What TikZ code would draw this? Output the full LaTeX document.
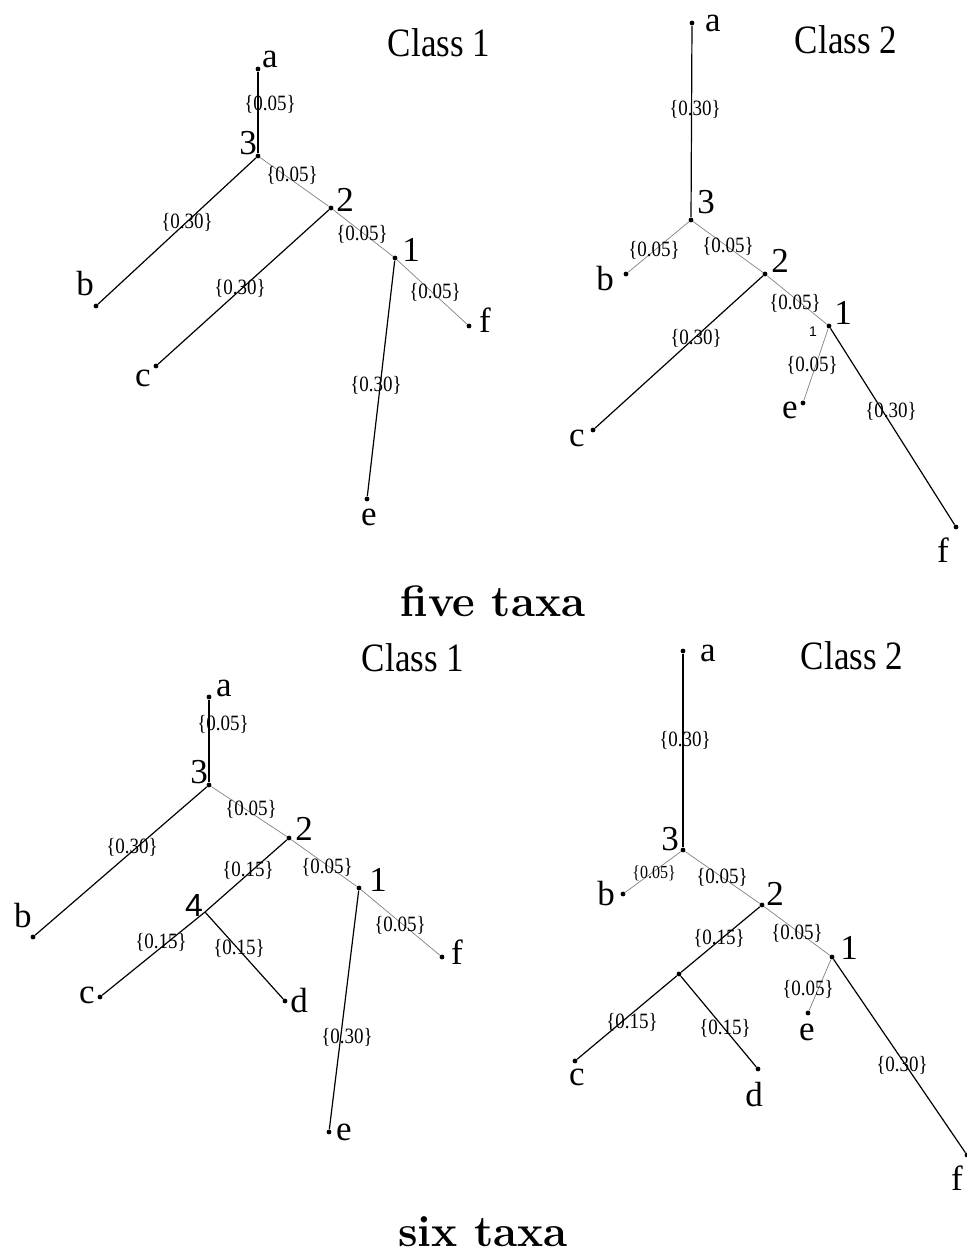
\documentclass[tikz,border=0pt]{standalone}
\usepackage{fontspec}
\newfontfamily\tms{Liberation Serif}
\newfontfamily\hlv{Liberation Sans}
\tikzstyle{dot}=[circle,fill=black,inner sep=0pt,minimum size=2.4pt]
\tikzstyle{L}=[inner sep=0pt,font=\tms\fontsize{17.5}{18}\selectfont]
\tikzstyle{W}=[inner sep=0pt,font=\tms\fontsize{9.5}{10}\selectfont]
\tikzstyle{H}=[inner sep=0pt,font=\bfseries\fontsize{22}{24}\selectfont]
\tikzstyle{long}=[line width=0.6pt]
\tikzstyle{short}=[gray,line width=0.35pt]
\newcommand\blen[1]{\scalebox{1}[1.15]{\{#1\}}}
\newcommand\cls[1]{\scalebox{1}[1.15]{Class #1}}

\begin{document}
\begin{tikzpicture}[x=0.5pt,y=-0.5pt]
    \useasboundingbox (0,0) rectangle (966,1254);

        % five taxa, class 1
        \begin{scope}
            \node[dot] (Aa) at (258,69) {};
            \node[dot] (A3) at (258,156) {};
            \node[dot] (A2) at (331,208) {};
            \node[dot] (A1) at (395,258) {};
            \node[dot] (Ab) at (96,306) {};
            \node[dot] (Ac) at (156,366) {};
            \node[dot] (Af) at (469,326) {};
            \node[dot] (Ae) at (367,499) {};
            \draw[long] (Aa) -- (A3);
            \draw[short] (A3) -- (A2);
            \draw[long] (A3) -- (Ab);
            \draw[short] (A2) -- (A1);
            \draw[long] (A2) -- (Ac);
            \draw[short] (A1) -- (Af);
            \draw[long] (A1) -- (Ae);
            \node[L] (tAa) at (270,59) {a};
            \node[L] (tA3) at (248,143) {3};
            \node[L] (tA2) at (345,200) {2};
            \node[L] (tA1) at (411,250) {1};
            \node[L] (tAb) at (85,284) {b};
            \node[L] (tAc) at (143,378) {c};
            \node[L] (tAf) at (485,320) {f};
            \node[L] (tAe) at (369,517) {e};
            \node[W] (wA1) at (270,104) {\blen{0.05}};
            \node[W] (wA2) at (292,175) {\blen{0.05}};
            \node[W] (wA3) at (187,222) {\blen{0.30}};
            \node[W] (wA4) at (362,234) {\blen{0.05}};
            \node[W] (wA5) at (240,288) {\blen{0.30}};
            \node[W] (wA6) at (435,292) {\blen{0.05}};
            \node[W] (wA7) at (376,385) {\blen{0.30}};
            \node[L] (cA) at (439,43) {\cls{1}};
        \end{scope}

        % five taxa, class 2
        \begin{scope}
            \node[dot] (Ba) at (692,23) {};
            \node[dot] (B3) at (691,220) {};
            \node[dot] (Bb) at (626,274) {};
            \node[dot] (B2) at (765,274) {};
            \node[dot] (B1) at (829,326) {};
            \node[dot] (Bc) at (593,430) {};
            \node[dot] (Be) at (803,403) {};
            \node[dot] (Bf) at (956,527) {};
            \draw[long] (Ba) -- (B3);
            \draw[short] (B3) -- (Bb);
            \draw[short] (B3) -- (B2);
            \draw[short] (B2) -- (B1);
            \draw[long] (B2) -- (Bc);
            \draw[short] (B1) -- (Be);
            \draw[long] (B1) -- (Bf);
            \node[L] (tBa) at (713,23) {a};
            \node[L] (tB3) at (706,202) {3};
            \node[L] (tBb) at (605,279) {b};
            \node[L] (tB2) at (780,261) {2};
            \node[L] (tB1) at (843,313) {1};
            \node[inner sep=0pt,font=\hlv\fontsize{7}{8}\selectfont] (sB1) at (813,332) {1};
            \node[L] (tBc) at (577,438) {c};
            \node[L] (tBe) at (790,410) {e};
            \node[L] (tBf) at (943,550) {f};
            \node[W] (wB1) at (695,109) {\blen{0.30}};
            \node[W] (wB2) at (654,250) {\blen{0.05}};
            \node[W] (wB3) at (728,246) {\blen{0.05}};
            \node[W] (wB4) at (795,303) {\blen{0.05}};
            \node[W] (wB5) at (696,338) {\blen{0.30}};
            \node[W] (wB6) at (812,365) {\blen{0.05}};
            \node[W] (wB7) at (891,411) {\blen{0.30}};
            \node[L] (cB) at (846,40) {\cls{2}};
        \end{scope}

        \node[H] (five) at (493,601) {five taxa};

        % six taxa, class 1
        \begin{scope}
            \node[dot] (Ca) at (209,697) {};
            \node[dot] (C3) at (209,785) {};
            \node[dot] (C2) at (289,838) {};
            \node[dot] (C1) at (359,888) {};
            \node[dot] (Cb) at (33,937) {};
            \coordinate (C4) at (205,912);
            \node[dot] (Cc) at (100,997) {};
            \node[dot] (Cd) at (285,1001) {};
            \node[dot] (Cf) at (442,957) {};
            \node[dot] (Ce) at (329,1132) {};
            \draw[long] (Ca) -- (C3);
            \draw[short] (C3) -- (C2);
            \draw[long] (C3) -- (Cb);
            \draw[long] (C2) -- (C4);
            \draw[short] (C2) -- (C1);
            \draw[short] (C1) -- (Cf);
            \draw[long] (C4) -- (Cc);
            \draw[long] (C4) -- (Cd);
            \draw[long] (C1) -- (Ce);
            \node[L] (tCa) at (224,688) {a};
            \node[L] (tC3) at (199,772) {3};
            \node[L] (tC2) at (304,829) {2};
            \node[L] (tC1) at (378,880) {1};
            \node[inner sep=0pt,font=\hlv\fontsize{16}{18}\selectfont] (tC4) at (194,905) {4};
            \node[L] (tCb) at (23,916) {b};
            \node[L] (tCc) at (87,995) {c};
            \node[L] (tCd) at (299,1001) {d};
            \node[L] (tCf) at (457,952) {f};
            \node[L] (tCe) at (344,1132) {e};
            \node[W] (wC1) at (223,724) {\blen{0.05}};
            \node[W] (wC2) at (251,809) {\blen{0.05}};
            \node[W] (wC3) at (132,847) {\blen{0.30}};
            \node[W] (wC4) at (248,870) {\blen{0.15}};
            \node[W] (wC5) at (327,867) {\blen{0.05}};
            \node[W] (wC6) at (400,925) {\blen{0.05}};
            \node[W] (wC7) at (161,942) {\blen{0.15}};
            \node[W] (wC8) at (239,948) {\blen{0.15}};
            \node[W] (wC9) at (347,1037) {\blen{0.30}};
            \node[L] (cC) at (413,658) {\cls{1}};
        \end{scope}

        % six taxa, class 2
        \begin{scope}
            \node[dot] (Da) at (683,651) {};
            \node[dot] (D3) at (683,850) {};
            \node[dot] (Db) at (623,894) {};
            \node[dot] (D2) at (762,905) {};
            \node[dot] (D1) at (832,957) {};
            \node[dot] (D4) at (679,974) {};
            \node[dot] (Dc) at (575,1061) {};
            \node[dot] (Dd) at (758,1069) {};
            \node[dot] (De) at (808,1013) {};
            \node[dot] (Df) at (967,1155) {};
            \draw[long] (Da) -- (D3);
            \draw[short] (D3) -- (Db);
            \draw[short] (D3) -- (D2);
            \draw[long] (D2) -- (D4);
            \draw[short] (D2) -- (D1);
            \draw[short] (D1) -- (De);
            \draw[long] (D4) -- (Dc);
            \draw[long] (D4) -- (Dd);
            \draw[long] (D1) -- (Df);
            \node[L] (tDa) at (708,653) {a};
            \node[L] (tD3) at (670,839) {3};
            \node[L] (tDb) at (606,894) {b};
            \node[L] (tD2) at (775,894) {2};
            \node[L] (tD1) at (849,948) {1};
            \node[L] (tDc) at (577,1077) {c};
            \node[L] (tDd) at (754,1095) {d};
            \node[L] (tDe) at (807,1032) {e};
            \node[L] (tDf) at (957,1178) {f};
            \node[W] (wD1) at (685,740) {\blen{0.30}};
            \node[W,font=\tms\fontsize{8}{9}\selectfont] (wD2) at (654,873) {\blen{0.05}};
            \node[W] (wD3) at (722,877) {\blen{0.05}};
            \node[W] (wD4) at (719,938) {\blen{0.15}};
            \node[W] (wD5) at (797,933) {\blen{0.05}};
            \node[W] (wD6) at (808,989) {\blen{0.05}};
            \node[W] (wD7) at (632,1022) {\blen{0.15}};
            \node[W] (wD8) at (725,1028) {\blen{0.15}};
            \node[W] (wD9) at (902,1065) {\blen{0.30}};
            \node[L] (cD) at (852,656) {\cls{2}};
        \end{scope}

        \node[H] (six) at (483,1232) {six taxa};

    \end{tikzpicture}
\end{document}
